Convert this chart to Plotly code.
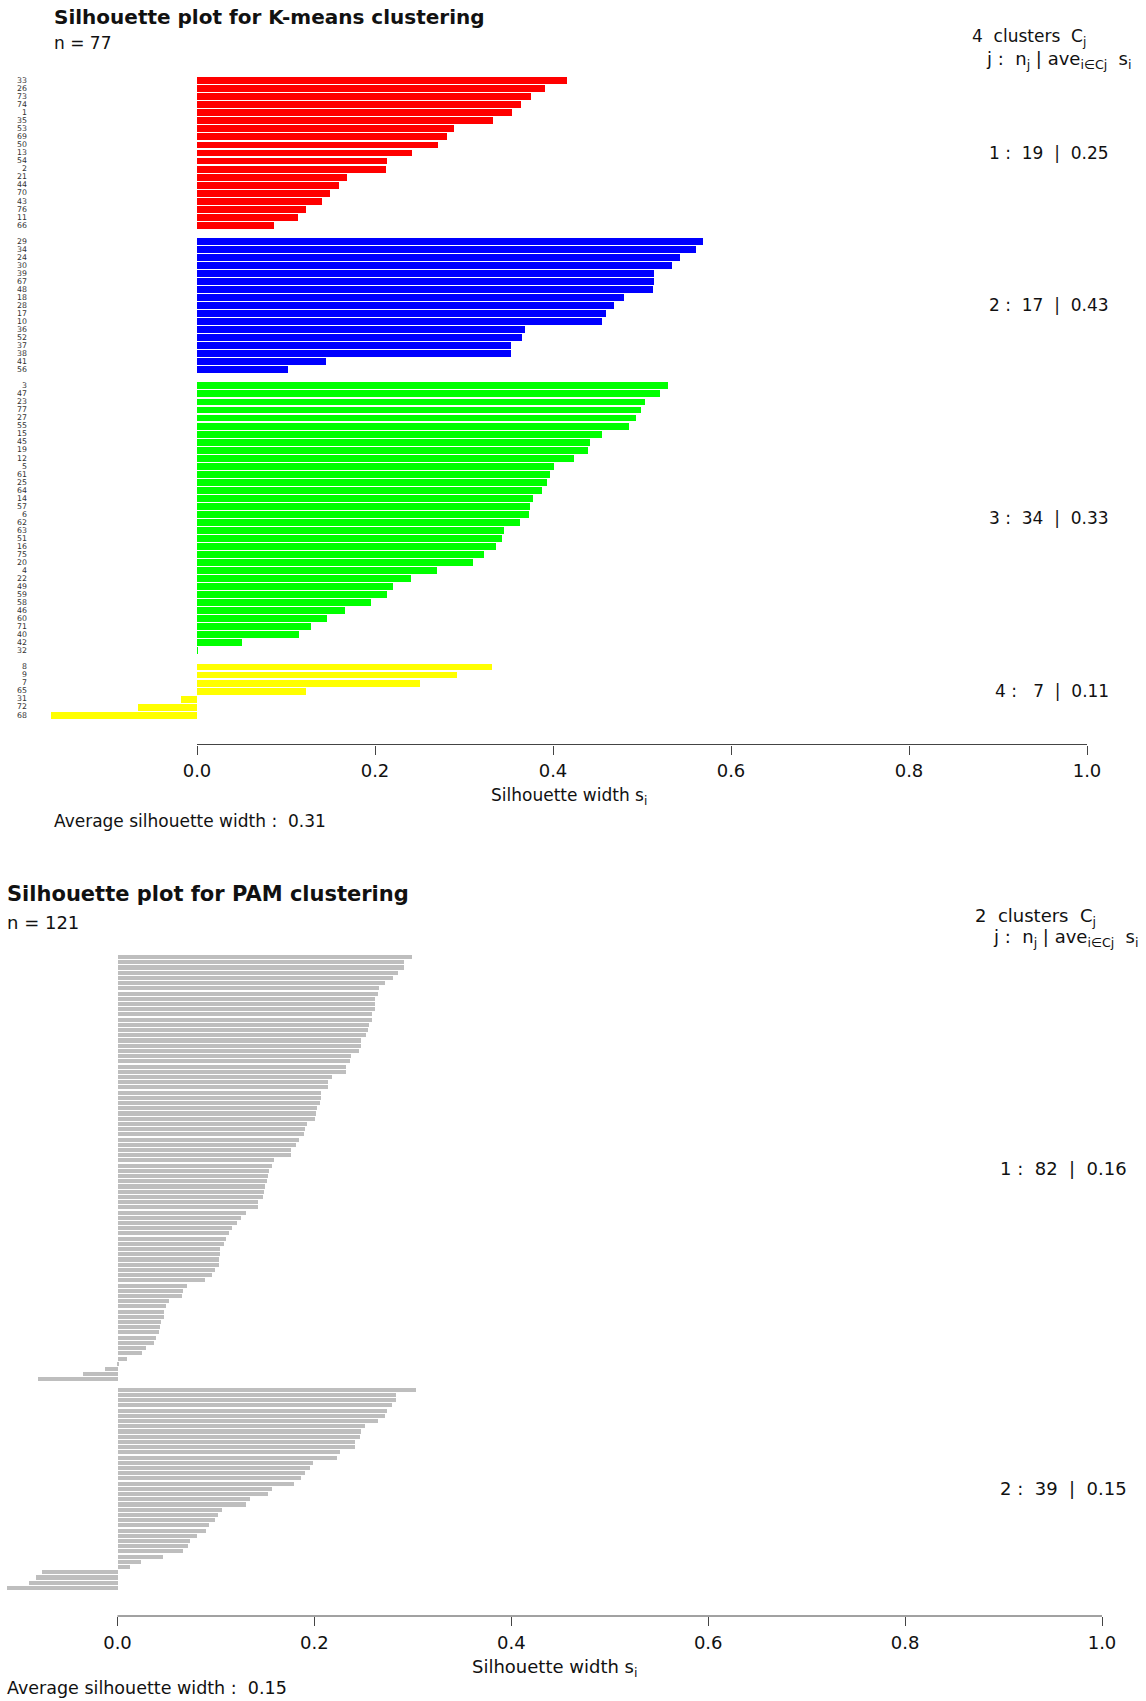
import plotly.graph_objects as go

# ---------------------------------------------------------------------------
# K-means (k = 4): observation ids and silhouette widths, sorted within cluster
# ---------------------------------------------------------------------------
km_c1_ids = [33, 26, 73, 74, 1, 35, 53, 69, 50, 13, 54, 2, 21, 44, 70, 43, 76, 11, 66]
km_c1_sil = [0.416, 0.391, 0.375, 0.364, 0.354, 0.333, 0.289, 0.281, 0.271, 0.242,
             0.213, 0.212, 0.169, 0.159, 0.149, 0.141, 0.123, 0.114, 0.087]

km_c2_ids = [29, 34, 24, 30, 39, 67, 48, 18, 28, 17, 10, 36, 52, 37, 38, 41, 56]
km_c2_sil = [0.569, 0.561, 0.543, 0.534, 0.514, 0.514, 0.512, 0.480, 0.468, 0.459,
             0.455, 0.368, 0.365, 0.353, 0.353, 0.145, 0.102]

km_c3_ids = [3, 47, 23, 77, 27, 55, 15, 45, 19, 12, 5, 61, 25, 64, 14, 57, 6,
             62, 63, 51, 16, 75, 20, 4, 22, 49, 59, 58, 46, 60, 71, 40, 42, 32]
km_c3_sil = [0.529, 0.520, 0.503, 0.499, 0.493, 0.485, 0.455, 0.442, 0.439, 0.424,
             0.401, 0.397, 0.393, 0.388, 0.378, 0.374, 0.373, 0.363, 0.345, 0.343,
             0.336, 0.322, 0.310, 0.270, 0.240, 0.220, 0.213, 0.196, 0.166, 0.146,
             0.128, 0.115, 0.050, 0.001]

km_c4_ids = [8, 9, 7, 65, 31, 72, 68]
km_c4_sil = [0.331, 0.292, 0.250, 0.123, -0.018, -0.066, -0.164]

km_colors = ["#FF0000", "#0000FF", "#00FF00", "#FFFF00"]

# ---------------------------------------------------------------------------
# PAM (k = 2): silhouette widths, sorted within cluster (no row names drawn)
# ---------------------------------------------------------------------------
pam_c1_sil = [0.299, 0.291, 0.291, 0.285, 0.280, 0.272, 0.266, 0.265, 0.262, 0.262,
              0.262, 0.259, 0.258, 0.255, 0.254, 0.252, 0.247, 0.247, 0.245, 0.237,
              0.236, 0.232, 0.232, 0.218, 0.214, 0.214, 0.207, 0.207, 0.206, 0.203,
              0.202, 0.201, 0.192, 0.190, 0.189, 0.184, 0.181, 0.176, 0.176, 0.159,
              0.157, 0.154, 0.153, 0.152, 0.150, 0.149, 0.148, 0.143, 0.143, 0.131,
              0.125, 0.121, 0.116, 0.113, 0.110, 0.108, 0.104, 0.104, 0.103, 0.103,
              0.099, 0.096, 0.089, 0.071, 0.067, 0.066, 0.052, 0.049, 0.047, 0.047,
              0.044, 0.043, 0.042, 0.039, 0.037, 0.029, 0.025, 0.010, 0.001,
              -0.013, -0.035, -0.081]
pam_c2_sil = [0.303, 0.283, 0.283, 0.279, 0.274, 0.272, 0.265, 0.251, 0.247, 0.246,
              0.241, 0.241, 0.226, 0.223, 0.199, 0.196, 0.190, 0.186, 0.179, 0.157,
              0.153, 0.135, 0.131, 0.106, 0.102, 0.099, 0.093, 0.090, 0.081, 0.074,
              0.072, 0.067, 0.046, 0.024, 0.013, -0.077, -0.083, -0.090, -0.112]
pam_color = "#BEBEBE"

x_ticks = [0.0, 0.2, 0.4, 0.6, 0.8, 1.0]

# ---------------------------------------------------------------------------
# Page geometry (pixels) and styling
# ---------------------------------------------------------------------------
W, H = 1146, 1701
FONT = "DejaVu Sans"
INK = "#111111"
AXIS_INK = "#444444"


def fx(px):
    return px / W


def fy(px):
    return 1 - px / H


def slot_positions(clusters):
    """Bar slots as in a silhouette barplot: one empty slot between clusters."""
    pos, mids, p = [], [], 0
    for i, vals in enumerate(clusters):
        if i > 0:
            p += 1
        start = p
        for _ in vals:
            pos.append(p)
            p += 1
        mids.append((start + p - 1) / 2)
    return pos, mids, p


fig = go.Figure()
annotations = []
shapes = []


def add_panel(n, clusters, colors, ids, title, box, zero_px, one_px,
              bar_width, xlab_y, avg_y, title_xy, n_y, head_px, cl_right,
              title_size, text_size, head2_size, avg_size):
    xa = "x" if n == 1 else f"x{n}"
    ya = "y" if n == 1 else f"y{n}"
    xkey = "xaxis" if n == 1 else f"xaxis{n}"
    ykey = "yaxis" if n == 1 else f"yaxis{n}"
    left, right, top, bottom = box

    pos, mids, nslots = slot_positions(clusters)
    all_vals = [v for c in clusters for v in c]
    k = 0
    for vals, col in zip(clusters, colors):
        fig.add_trace(go.Bar(
            x=vals, y=pos[k:k + len(vals)], orientation="h",
            width=bar_width, marker=dict(color=col, line=dict(width=0)),
            xaxis=xa, yaxis=ya, showlegend=False, hoverinfo="skip"))
        k += len(vals)

    # R-style 4 % padding around the bar slots
    pad = 0.04 * nslots
    yrange = [nslots - 0.5 + pad, -0.5 - pad]
    scale = one_px - zero_px
    xrange = [(left - zero_px) / scale, (right - zero_px) / scale]

    fig.update_layout(**{
        xkey: dict(domain=[fx(left), fx(right)], range=xrange, anchor=ya,
                   tickvals=x_ticks, ticktext=[f"{t:.1f}" for t in x_ticks],
                   ticks="outside", ticklen=9, tickwidth=1, tickcolor=AXIS_INK,
                   showgrid=False, zeroline=False, showline=False,
                   tickfont=dict(family=FONT, size=18, color=INK),
                   ticklabelstandoff=1, fixedrange=True),
        ykey: dict(domain=[fy(bottom), fy(top)], range=yrange, anchor=xa,
                   tickvals=pos if ids else [],
                   ticktext=[str(i) for i in ids] if ids else [],
                   showticklabels=bool(ids), ticks="",
                   showgrid=False, zeroline=False, showline=False,
                   tickfont=dict(family=FONT, size=7.8, color="#333333"),
                   ticklabelstandoff=2, fixedrange=True),
    })

    # axis line only across the [0, 1] silhouette range
    shapes.append(dict(type="line", xref=xa, yref=f"{ya} domain",
                       x0=0, x1=1, y0=0, y1=0,
                       line=dict(color=AXIS_INK, width=1)))

    def text(s, x, y, size, bold=False, xanchor="left", xref="paper", yref="paper"):
        annotations.append(dict(
            text=s, x=x, y=y, xref=xref, yref=yref, xanchor=xanchor,
            yanchor="middle", showarrow=False,
            font=dict(family=FONT, size=size, color=INK,
                      weight="bold" if bold else "normal")))

    nb = "\u00a0"
    text(title, fx(title_xy[0]), fy(title_xy[1]), title_size, bold=True)
    text(f"n = {len(all_vals)}", fx(title_xy[0]), fy(n_y), text_size)
    text(f"{len(clusters)}{nb*2}clusters{nb*2}C<sub>j</sub>",
         fx(head_px[0]), fy(head_px[1]), text_size, xanchor="right")
    text(f"j :{nb*2}n<sub>j</sub> | ave<sub>i\u2208Cj</sub>{nb*2}s<sub>i</sub>",
         fx(head_px[2]), fy(head_px[3]), head2_size, xanchor="right")
    width_n = max(len(str(len(c))) for c in clusters)
    for j, (vals, mid) in enumerate(zip(clusters, mids), start=1):
        ave = sum(vals) / len(vals)
        cnt = str(len(vals)).rjust(width_n, nb)
        text(f"{j} :{nb*2}{cnt}{nb*2}|{nb*2}{ave:.2f}", fx(cl_right), mid,
             text_size, xanchor="right", yref=ya)
    xmin = min(0.0, min(all_vals))
    text("Silhouette width s<sub>i</sub>", (xmin + 1) / 2, fy(xlab_y),
         text_size, xanchor="center", xref=xa)
    avg = sum(all_vals) / len(all_vals)
    text(f"Average silhouette width :{nb*2}{avg:.2f}", fx(title_xy[0]),
         fy(avg_y), avg_size)


add_panel(
    1, [km_c1_sil, km_c2_sil, km_c3_sil, km_c4_sil], km_colors,
    km_c1_ids + km_c2_ids + km_c3_ids + km_c4_ids,
    "Silhouette plot for K-means clustering",
    box=(30, 1140, 50.6, 744.5), zero_px=197, one_px=1087, bar_width=0.86,
    xlab_y=796.5, avg_y=821, title_xy=(52, 16.8), n_y=43.5,
    head_px=(1088, 38, 1134, 60), cl_right=1111,
    title_size=20, text_size=17, head2_size=18, avg_size=17)

add_panel(
    2, [pam_c1_sil, pam_c2_sil], [pam_color, pam_color], None,
    "Silhouette plot for PAM clustering",
    box=(2, 1144, 929, 1616), zero_px=117.5, one_px=1102, bar_width=0.78,
    xlab_y=1667.5, avg_y=1688, title_xy=(5.4, 894.5), n_y=922,
    head_px=(1098, 917, 1141, 938), cl_right=1129,
    title_size=21, text_size=18, head2_size=18, avg_size=17.5)

fig.update_layout(
    width=W, height=H,
    margin=dict(l=0, r=0, t=0, b=0),
    paper_bgcolor="white", plot_bgcolor="white",
    bargap=0, hovermode=False,
    annotations=annotations, shapes=shapes,
    font=dict(family=FONT, color=INK),
)

fig.write_html("out.html")
